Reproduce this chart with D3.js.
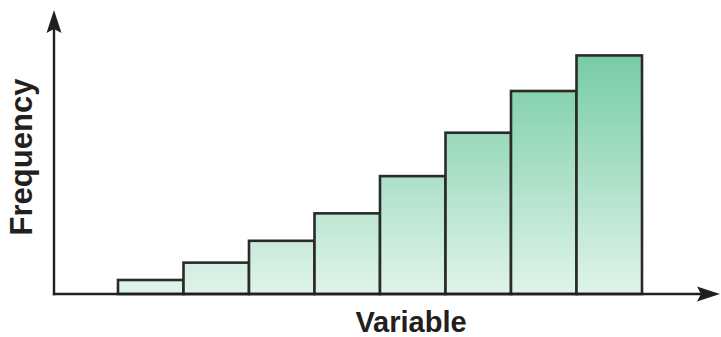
<!DOCTYPE html>
<html>
<head>
<meta charset="utf-8">
<script src="https://cdn.jsdelivr.net/npm/d3@7"></script>
<style>
  html, body { margin: 0; padding: 0; background: #ffffff; }
  svg { display: block; }
  text { font-family: "Liberation Sans", Arial, Helvetica, sans-serif; font-weight: bold; fill: #231f20; }
</style>
</head>
<body>
<svg id="chart" width="721" height="337"></svg>
<script>
// Histogram bins (unlabelled classes of the variable) and their frequencies
const bins = ["b1", "b2", "b3", "b4", "b5", "b6", "b7", "b8"];
const frequencies = [5, 11.2, 19, 28.8, 42.1, 57.6, 72.5, 85.2];
const xTitle = "Variable";
const yTitle = "Frequency";

const svg = d3.select("#chart");
const ink = "#231f20";

const originX = 54, originY = 294;
const x = d3.scaleBand().domain(bins).range([118, 642]).padding(0);
const y = d3.scaleLinear().domain([0, 100]).range([originY, 14]);

// Vertical gradient shared by all bars: deeper green higher up
const defs = svg.append("defs");
const grad = defs.append("linearGradient")
  .attr("id", "barFill")
  .attr("gradientUnits", "userSpaceOnUse")
  .attr("x1", 0).attr("x2", 0)
  .attr("y1", y(d3.max(frequencies))).attr("y2", originY);
grad.append("stop").attr("offset", "0%").attr("stop-color", "#77cca4");
grad.append("stop").attr("offset", "100%").attr("stop-color", "#e0f4ea");

svg.append("g")
  .selectAll("rect")
  .data(bins.map((b, i) => ({ bin: b, value: frequencies[i] })))
  .join("rect")
  .attr("x", d => x(d.bin))
  .attr("y", d => y(d.value))
  .attr("width", x.bandwidth())
  .attr("height", d => y(0) - y(d.value))
  .attr("fill", "url(#barFill)")
  .attr("stroke", "#2a2a2a")
  .attr("stroke-width", 2.6);

// Axes with arrowheads
const axes = svg.append("g");
axes.append("line")
  .attr("x1", originX).attr("y1", originY + 1.2)
  .attr("x2", originX).attr("y2", 28)
  .attr("stroke", ink).attr("stroke-width", 2.4);
axes.append("line")
  .attr("x1", originX - 1.2).attr("y1", originY)
  .attr("x2", 710).attr("y2", originY)
  .attr("stroke", ink).attr("stroke-width", 2.4);

const arrow = (tipX, tipY, dir) => {
  // dir: "up" or "right"; slightly notched back edge
  const L = 23, W = 7.5, notch = 4;
  let pts;
  if (dir === "up") {
    pts = [[tipX, tipY], [tipX + W, tipY + L], [tipX, tipY + L - notch], [tipX - W, tipY + L]];
  } else {
    pts = [[tipX, tipY], [tipX - L, tipY + W], [tipX - L + notch, tipY], [tipX - L, tipY - W]];
  }
  axes.append("path")
    .attr("d", d3.line()(pts) + "Z")
    .attr("fill", ink);
};
arrow(originX, 10, "up");
arrow(720, originY, "right");

// Axis titles
svg.append("text")
  .attr("x", 411).attr("y", 332)
  .attr("text-anchor", "middle")
  .style("font-size", "29px")
  .text(xTitle);

svg.append("text")
  .attr("transform", "translate(32,157) rotate(-90)")
  .attr("text-anchor", "middle")
  .style("font-size", "31px")
  .text(yTitle);
</script>
</body>
</html>
